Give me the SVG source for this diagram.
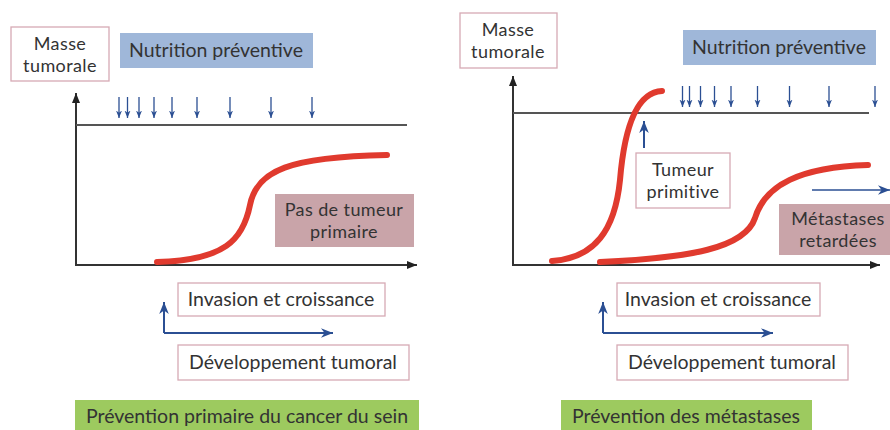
<svg xmlns="http://www.w3.org/2000/svg" width="890" height="430" viewBox="0 0 890 430">
<defs>
<style>
text{font-family:"Lato","Open Sans",sans-serif;font-size:19.5px;fill:#333;text-anchor:middle}
.two{font-size:18px;letter-spacing:0.4px}
.pb{fill:#fff;stroke:#d6aab4;stroke-width:1.3}
.blue{fill:#9fb7d9}
.rose{fill:#c9a4a9}
.green{fill:#9dca5f}
.axis{stroke:#333;stroke-width:2;fill:none}
.hl{stroke:#555;stroke-width:2.2;fill:none}
.red{stroke:#e03a2e;stroke-width:6;fill:none;stroke-linecap:round}
.sa{stroke:#2b4f93;stroke-width:1.3;fill:none}
.ba{stroke:#2b4f93;stroke-width:2;fill:none}
</style>
<marker id="axh" viewBox="0 0 10 10" refX="10" refY="5" markerWidth="10" markerHeight="10" orient="auto" markerUnits="userSpaceOnUse">
<path d="M0,1 L10,5 L0,9 z" fill="#222"/>
</marker>
<marker id="sm" viewBox="0 0 10 10" refX="10" refY="5" markerWidth="7.5" markerHeight="7.5" orient="auto" markerUnits="userSpaceOnUse">
<path d="M0,1 L10,5 L0,9 L3,5 z" fill="#2b4f93"/>
</marker>
<marker id="bg" viewBox="0 0 10 10" refX="10" refY="5" markerWidth="12" markerHeight="12" orient="auto" markerUnits="userSpaceOnUse">
<path d="M0,1 L10,5 L0,9 L3,5 z" fill="#2b4f93"/>
</marker>
</defs>
<rect width="890" height="430" fill="#fff"/>

<g id="left-panel">
<g id="l-masse"><rect class="pb" x="11" y="27" width="98" height="54"/><text class="two" x="60" y="50"><tspan x="60">Masse</tspan><tspan x="60" dy="22">tumorale</tspan></text></g>
<g id="l-nutrition"><rect class="blue" x="120" y="33" width="193" height="35"/><text x="216" y="57">Nutrition préventive</text></g>
<g id="l-pas"><rect class="rose" x="275" y="194" width="139" height="53"/><text class="two" x="344" y="216"><tspan x="344">Pas de tumeur</tspan><tspan x="344" dy="22">primaire</tspan></text></g>
<g id="l-invasion"><rect class="pb" x="178" y="283" width="207" height="33"/><text x="281" y="306">Invasion et croissance</text></g>
<g id="l-dev"><rect class="pb" x="178" y="345" width="231" height="35"/><text x="293" y="369">Développement tumoral</text></g>
<g id="l-title"><rect class="green" x="75" y="400" width="344" height="35"/><text x="247" y="423">Prévention primaire du cancer du sein</text></g>
</g>

<g id="right-panel">
<g id="r-masse"><rect class="pb" x="460" y="13" width="97" height="55"/><text class="two" x="508" y="36"><tspan x="508">Masse</tspan><tspan x="508" dy="22">tumorale</tspan></text></g>
<g id="r-nutrition"><rect class="blue" x="683" y="30" width="193" height="35"/><text x="779" y="54">Nutrition préventive</text></g>
<g id="r-tumeur"><rect class="pb" x="636" y="153" width="94" height="55"/><text class="two" x="683" y="176"><tspan x="683">Tumeur</tspan><tspan x="683" dy="22">primitive</tspan></text></g>
<g id="r-meta"><rect class="rose" x="779" y="204" width="115" height="51"/><text class="two" x="838" y="225"><tspan x="838">Métastases</tspan><tspan x="838" dy="22">retardées</tspan></text></g>
<g id="r-invasion"><rect class="pb" x="617" y="283" width="203" height="33"/><text x="718" y="306">Invasion et croissance</text></g>
<g id="r-dev"><rect class="pb" x="617" y="345" width="231" height="35"/><text x="732" y="369">Développement tumoral</text></g>
<g id="r-title"><rect class="green" x="561" y="400" width="251" height="35"/><text x="686" y="423">Prévention des métastases</text></g>
</g>

<g id="connectors">
<path class="axis" d="M76,266 L76,93" marker-end="url(#axh)"/>
<path class="axis" d="M75,265 L417,265" marker-end="url(#axh)"/>
<path class="hl" d="M76,125 L407,125"/>
<g id="l-arrows">
<path class="sa" d="M119,97 V118" marker-end="url(#sm)"/>
<path class="sa" d="M127.5,97 V118" marker-end="url(#sm)"/>
<path class="sa" d="M139,97 V118" marker-end="url(#sm)"/>
<path class="sa" d="M154,97 V118" marker-end="url(#sm)"/>
<path class="sa" d="M172,97 V118" marker-end="url(#sm)"/>
<path class="sa" d="M197,97 V118" marker-end="url(#sm)"/>
<path class="sa" d="M230,97 V118" marker-end="url(#sm)"/>
<path class="sa" d="M271,97 V118" marker-end="url(#sm)"/>
<path class="sa" d="M312,97 V118" marker-end="url(#sm)"/>
</g>
<path class="red" d="M157,262 C225,260 243,240 250,205 C257,170 290,157 387,155"/>
<path class="ba" d="M164,333 L164,302" marker-end="url(#bg)"/>
<path class="ba" d="M164,333 L333,333" marker-end="url(#bg)"/>

<path class="axis" d="M513,266 L513,76" marker-end="url(#axh)"/>
<path class="axis" d="M512,265 L880,265" marker-end="url(#axh)"/>
<path class="hl" d="M513,113 L869,113"/>
<g id="r-arrows">
<path class="sa" d="M682.5,86 V107" marker-end="url(#sm)"/>
<path class="sa" d="M689.5,86 V107" marker-end="url(#sm)"/>
<path class="sa" d="M700.5,86 V107" marker-end="url(#sm)"/>
<path class="sa" d="M714.5,86 V107" marker-end="url(#sm)"/>
<path class="sa" d="M731,86 V107" marker-end="url(#sm)"/>
<path class="sa" d="M757.5,86 V107" marker-end="url(#sm)"/>
<path class="sa" d="M789.5,86 V107" marker-end="url(#sm)"/>
<path class="sa" d="M829,86 V107" marker-end="url(#sm)"/>
<path class="sa" d="M875,86 V107" marker-end="url(#sm)"/>
</g>
<path class="red" d="M552,261 C595,258 615,230 620,180 C625,120 640,92 662,91"/>
<path class="red" d="M600,262 C690,258 745,248 755,218 C765,185 800,167 868,165"/>
<path class="ba" d="M644,148 L644,121" marker-end="url(#bg)"/>
<path class="sa" d="M812,190 L890,190" marker-end="url(#bg)"/>
<path class="ba" d="M603,333 L603,302" marker-end="url(#bg)"/>
<path class="ba" d="M603,333 L773,333" marker-end="url(#bg)"/>
</g>
</svg>
